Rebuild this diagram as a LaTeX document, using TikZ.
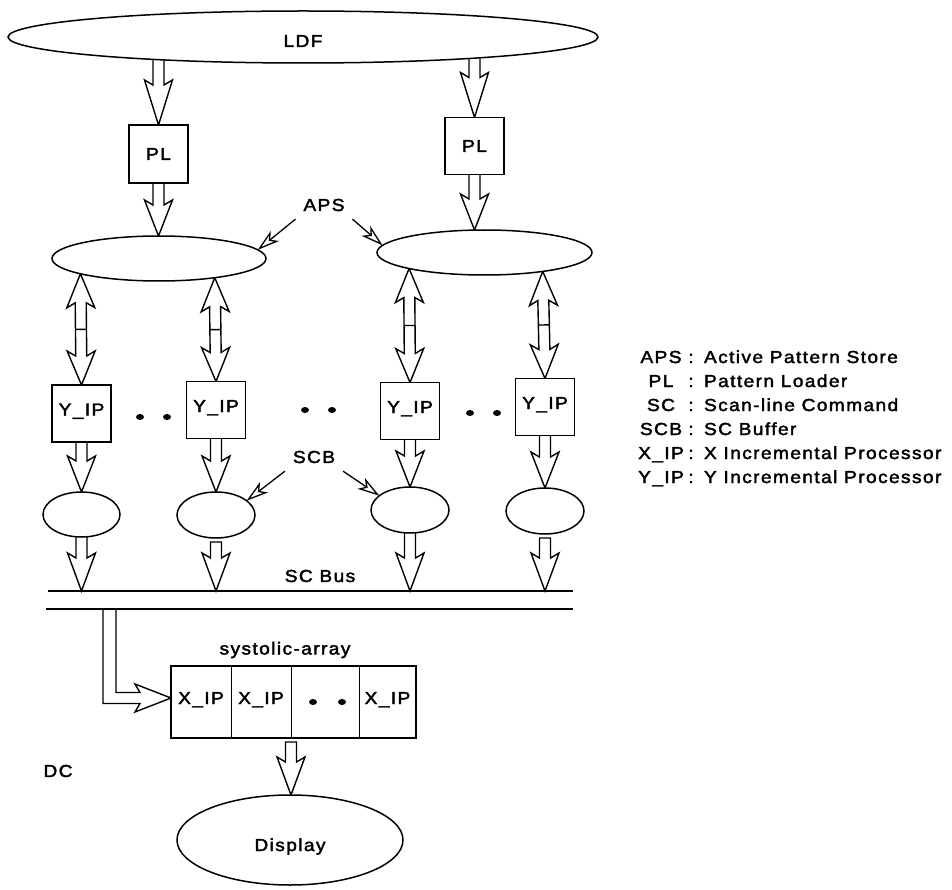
\documentclass[tikz,border=0pt]{standalone}
\usepackage{fontspec}
\setmainfont{Liberation Sans}[FakeStretch=1.1,LetterSpace=8,FakeBold=2.2]
\usetikzlibrary{calc,arrows.meta,shapes.geometric}
\pgfdeclarelayer{bg}
\pgfsetlayers{bg,main}

\tikzset{
  every node/.style={font=\fontsize{17.4pt}{24pt}\selectfont, inner sep=0pt, outer sep=0pt},
  ell/.style={draw, ellipse, fill=white, line width=1.5pt},
  box/.style={draw, rectangle, fill=white, line width=1.5pt, minimum width=59pt, minimum height=57pt},
  cell/.style={draw, rectangle, fill=white, line width=0.9pt, minimum height=72pt, text height=12pt, text depth=8pt},
  blockline/.style={draw, line width=1.4pt, line join=miter, fill=white},
  ptr/.style={line width=1.3pt, -{Stealth[open,length=22pt,width=13pt,inset=6pt]}},
  dotmark/.style={fill=black, ellipse, minimum width=8pt, minimum height=6pt},
  busline/.style={line width=1.6pt},
}

\newcommand\arrowgeom[2]{%
  \path let \p1=(#1), \p2=(#2) in \pgfextra{%
    \pgfmathsetmacro\tmpA{atan2(\y2-\y1,\x2-\x1)}%
    \pgfmathsetmacro\tmpL{veclen(\x2-\x1,\y2-\y1)}%
    \global\let\bAng\tmpA \global\let\bLen\tmpL};%
}
% block arrow, open tail
\newcommand\barrow[3][36]{%
  \arrowgeom{#2}{#3}%
  \begin{scope}[shift={(#2)},rotate=\bAng]
    \draw[blockline] (0pt,5.5pt) -- ({(\bLen-#1+5)*1pt},5.5pt) -- ({(\bLen-#1)*1pt},14pt)
      -- ({\bLen*1pt},0pt) -- ({(\bLen-#1)*1pt},-14pt) -- ({(\bLen-#1+5)*1pt},-5.5pt) -- (0pt,-5.5pt);
  \end{scope}}
% block arrow, closed tail
\newcommand\barrowc[3][36]{%
  \arrowgeom{#2}{#3}%
  \begin{scope}[shift={(#2)},rotate=\bAng]
    \draw[blockline] (0pt,5.5pt) -- ({(\bLen-#1+5)*1pt},5.5pt) -- ({(\bLen-#1)*1pt},14pt)
      -- ({\bLen*1pt},0pt) -- ({(\bLen-#1)*1pt},-14pt) -- ({(\bLen-#1+5)*1pt},-5.5pt) -- (0pt,-5.5pt) -- cycle;
  \end{scope}}
% double block arrow with crossbar
\newcommand\darrow[3][34]{%
  \arrowgeom{#2}{#3}%
  \begin{scope}[shift={(#2)},rotate=\bAng]
    \draw[blockline] (0pt,0pt) -- (#1pt,14pt) -- ({(#1-5)*1pt},5.5pt) -- ({(\bLen-#1+5)*1pt},5.5pt)
      -- ({(\bLen-#1)*1pt},14pt) -- ({\bLen*1pt},0pt) -- ({(\bLen-#1)*1pt},-14pt)
      -- ({(\bLen-#1+5)*1pt},-5.5pt) -- ({(#1-5)*1pt},-5.5pt) -- (#1pt,-14pt) -- cycle;
    \draw[line width=1.4pt] ({\bLen*0.5pt},5.5pt) -- ({\bLen*0.5pt},-5.5pt);
  \end{scope}}

\begin{document}
\begin{tikzpicture}[x=1pt,y=-1pt]
\useasboundingbox (0,0) rectangle (952,890);

% top
\node[ell, minimum width=590pt, minimum height=52pt, text height=20pt] (ldf) at (303,37) {LDF};
\node[box, minimum height=58pt] (pl1) at (158.5,154) {PL};
\node[box] (pl2) at (474.5,146) {PL};
\node[ell, minimum width=214pt, minimum height=45pt] (aps1) at (159,258.5) {};
\node[ell, minimum width=215pt, minimum height=45pt] (aps2) at (484.5,252.5) {};
\node[inner sep=8pt] (apslbl) at (324,205) {APS};

% Y_IP row
\node[box, text height=12pt, text depth=8pt] (yip1) at (81.5,413.5) {Y\_IP};
\node[box, text height=12pt, text depth=8pt] (yip2) at (216,410) {Y\_IP};
\node[box, text height=12pt, text depth=8pt] (yip3) at (410,411) {Y\_IP};
\node[box, text height=12pt, text depth=8pt] (yip4) at (545,407) {Y\_IP};
\node[dotmark] (d1a) at (140,417) {};
\node[dotmark] (d1b) at (167,417) {};
\node[dotmark] (d2a) at (305,410) {};
\node[dotmark] (d2b) at (332,410) {};
\node[dotmark] (d3a) at (470,413) {};
\node[dotmark] (d3b) at (497,413) {};

% SCB
\node[ell, minimum width=77pt, minimum height=45pt] (scb1) at (81.5,514.5) {};
\node[ell, minimum width=78pt, minimum height=46pt] (scb2) at (216,515) {};
\node[ell, minimum width=78pt, minimum height=46pt] (scb3) at (410,510) {};
\node[ell, minimum width=78pt, minimum height=46pt] (scb4) at (545,511) {};
\node[inner sep=8pt] (scblbl) at (314,457) {SCB};

% bus
\coordinate (busTL) at (48,591);
\coordinate (busTR) at (573,591);
\coordinate (busBL) at (46,609);
\coordinate (busBR) at (573,609);
\draw[busline] (busTL) -- (busTR);
\draw[busline] (busBL) -- (busBR);
\node (buslbl) at (320,576) {SC Bus};

% systolic array
\node (salbl) at (285,650) {systolic-array};
\node[cell, minimum width=60pt] (c1) at (201,702) {X\_IP};
\node[cell, minimum width=60pt] (c2) at (261,702) {X\_IP};
\node[cell, minimum width=68pt] (c3) at (325,702) {};
\node[cell, minimum width=57pt] (c4) at (387.5,702) {X\_IP};
\draw[line width=1.5pt] (c1.north west) rectangle (c4.south east);
\node[dotmark] (d4a) at (313,702) {};
\node[dotmark] (d4b) at (342,702) {};

\node[ell, minimum width=226pt, minimum height=90pt, text height=26pt, text depth=4pt] (disp) at (290,840) {Display};
\node (dc) at (58,771) {DC};

% pointer arrows
\draw[ptr] (apslbl.south west) -- (aps1.5);
\draw[ptr] (apslbl.south east) -- (aps2.176);
\draw[ptr] (scblbl.south west) -- (scb2.25);
\draw[ptr] (scblbl.south east) -- (scb3.155);

% legend
\foreach \lab/\desc [count=\i from 0] in {APS/Active Pattern Store, PL/Pattern Loader, SC/Scan-line Command, SCB/SC Buffer, X\_IP/X Incremental Processor, Y\_IP/Y Incremental Processor} {
  \node[anchor=base] (lgA\i) at (661,{363+24*\i}) {\lab};
  \node[anchor=base] (lgC\i) at (691,{363+24*\i}) {:};
  \node[anchor=base west] (lgD\i) at (704,{363+24*\i}) {\desc};
}

% block arrows behind nodes
\begin{pgfonlayer}{bg}
\barrow[45]{pl1.north |- ldf.center}{pl1.north}
\barrow[45]{pl2.north |- ldf.center}{pl2.north}
\barrow{pl1.center}{pl1.south |- aps1.north}
\barrow{pl2.center}{pl2.south |- aps2.north}
\darrow{aps1.191.32}{yip1.north}
\darrow{aps1.341.53}{yip2.north}
\darrow{aps2.192.28}{yip3.north}
\darrow{aps2.342.91}{yip4.north}
\barrow{yip1.center}{scb1.north}
\barrow{yip2.center}{scb2.north}
\barrow{yip3.center}{scb3.north}
\barrow{yip4.center}{scb4.north}
\barrow[38]{scb1.center}{scb1.south |- busTL}
\barrowc[38]{$(scb2.south)+(0,4)$}{scb2.south |- busTL}
\barrow[38]{scb3.center}{scb3.south |- busTL}
\barrowc[38]{$(scb4.south)+(0,4)$}{scb4.south |- busTL}
\barrowc[38]{$(c2.south east)+(0,4)$}{c2.south east |- disp.north}
% L-shaped arrow from bus to systolic array
\coordinate (ltop) at (109.5,609);
\coordinate (ltip) at ($(c1.west)+(0,-4)$);
\draw[blockline] ($(ltop)+(-6.5,0)$) |- ($(ltip)+(-31,5.5)$) -- ($(ltip)+(-36,14)$) -- (ltip)
  -- ($(ltip)+(-36,-14)$) -- ($(ltip)+(-31,-5.5)$) -| ($(ltop)+(6.5,0)$);
\end{pgfonlayer}
\end{tikzpicture}
\end{document}
